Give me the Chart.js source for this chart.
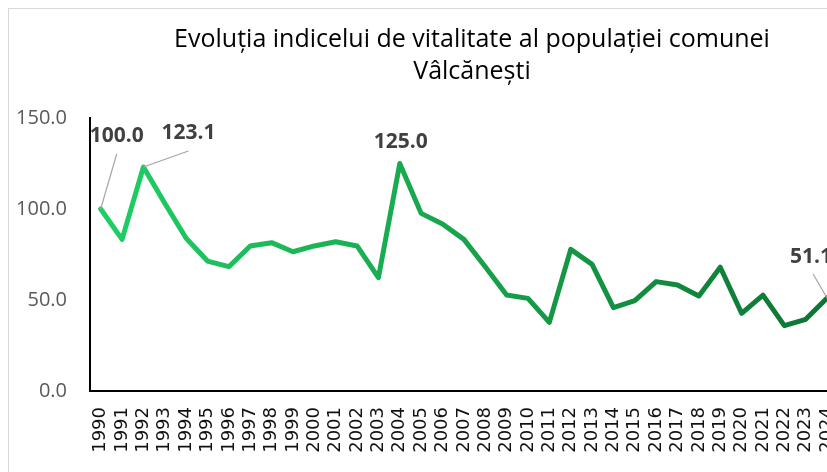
<!DOCTYPE html>
<html>
<head>
<meta charset="utf-8">
<script src="https://cdn.jsdelivr.net/npm/chart.js@4"></script>
<style>
  html, body { margin: 0; padding: 0; overflow: hidden; background: #fff; width: 827px; height: 472px; }
  #frame { position: absolute; left: 8px; top: 8px; width: 900px; height: 500px; border: 1px solid #d9d9d9; box-sizing: border-box; }
  #wrap { position: absolute; left: 0; top: 0; width: 865px; height: 472px; }
</style>
</head>
<body>
<div id="frame"></div>
<div id="wrap"><canvas id="c"></canvas></div>
<script>
const titleLines = ["Evoluția indicelui de vitalitate al populației comunei", "Vâlcănești"];
const years = ["1990","1991","1992","1993","1994","1995","1996","1997","1998","1999",
  "2000","2001","2002","2003","2004","2005","2006","2007","2008","2009",
  "2010","2011","2012","2013","2014","2015","2016","2017","2018","2019",
  "2020","2021","2022","2023","2024"];
const vitality = [100.0, 83.3, 123.1, 103.1, 83.9, 71.4, 68.3, 79.7, 81.5, 76.5,
  79.7, 82.0, 79.7, 62.3, 125.0, 97.6, 91.8, 83.3, 68.3, 52.7,
  50.9, 37.7, 77.8, 69.6, 45.8, 49.6, 60.1, 58.2, 52.2, 68.0,
  42.7, 52.7, 35.9, 39.4, 51.1];
const yTicks = [0, 50, 100, 150];
const labelledYears = ["1990", "1992", "2004", "2024"];

// label placement relative to the point (style, not data)
const labelPlacement = {
  "1990": { dx: 16, dy: -73, leader: [16, -55] },
  "1992": { dx: 45, dy: -34, leader: [45, -16] },
  "2004": { dx: 1, dy: -21, leader: null },
  "2024": { dx: -16, dy: -41, leader: [-14, -24] }
};

const titlePlugin = {
  id: 'customTitle',
  afterDraw(chart) {
    const ctx = chart.ctx;
    ctx.save();
    ctx.fillStyle = '#000';
    ctx.font = '25px "Open Sans"';
    ctx.textAlign = 'center';
    ctx.textBaseline = 'alphabetic';
    ctx.fillText(titleLines[0], 472, 47);
    ctx.fillText(titleLines[1], 472, 79);
    ctx.restore();
  }
};

const labelPlugin = {
  id: 'pointLabels',
  afterDatasetsDraw(chart) {
    const ctx = chart.ctx;
    const meta = chart.getDatasetMeta(0);
    ctx.save();
    labelledYears.forEach(yr => {
      const i = years.indexOf(yr);
      const pt = meta.data[i];
      const p = labelPlacement[yr];
      if (p.leader) {
        ctx.strokeStyle = '#a6a6a6';
        ctx.lineWidth = 1.2;
        ctx.beginPath();
        ctx.moveTo(pt.x, pt.y);
        ctx.lineTo(pt.x + p.leader[0], pt.y + p.leader[1]);
        ctx.stroke();
      }
      ctx.fillStyle = '#404040';
      ctx.font = 'bold 21px "Open Sans"';
      ctx.textAlign = 'center';
      ctx.textBaseline = 'middle';
      ctx.fillText(vitality[i].toFixed(1), pt.x + p.dx, pt.y + p.dy);
    });
    ctx.restore();
  }
};

new Chart(document.getElementById('c'), {
  type: 'line',
  data: {
    labels: years,
    datasets: [{
      data: vitality,
      borderWidth: 5,
      borderJoinStyle: 'round',
      borderCapStyle: 'round',
      pointRadius: 0,
      pointHoverRadius: 0,
      tension: 0,
      fill: false,
      borderColor(context) {
        const chart = context.chart;
        const a = chart.chartArea;
        if (!a) return '#17a34b';
        const g = chart.ctx.createLinearGradient(a.left, 0, a.right, 0);
        g.addColorStop(0, '#1fd066');
        g.addColorStop(0.5, '#17a34b');
        g.addColorStop(1, '#0d7334');
        return g;
      }
    }]
  },
  options: {
    responsive: true,
    maintainAspectRatio: false,
    animation: false,
    layout: { padding: { top: 118, right: 22, left: 0, bottom: 0 } },
    plugins: {
      legend: { display: false },
      title: { display: false },
      tooltip: { enabled: false }
    },
    scales: {
      x: {
        offset: true,
        grid: { display: false, drawTicks: false },
        border: { display: true, color: '#000', width: 2 },
        ticks: {
          autoSkip: false,
          minRotation: 90,
          maxRotation: 90,
          padding: 16,
          color: '#111',
          font: { family: '"DejaVu Sans"', size: 18 }
        },
        afterFit(scale) { scale.height = 81; }
      },
      y: {
        min: 0,
        max: 150,
        grid: { display: false, drawTicks: false },
        border: { display: true, color: '#000', width: 2 },
        afterBuildTicks(scale) { scale.ticks = yTicks.map(v => ({ value: v })); },
        ticks: {
          padding: 23,
          color: '#595959',
          font: { family: '"Open Sans"', size: 20 },
          callback: v => Number(v).toFixed(1)
        },
        afterFit(scale) { scale.width = 90; }
      }
    }
  },
  plugins: [titlePlugin, labelPlugin]
});
</script>
</body>
</html>
